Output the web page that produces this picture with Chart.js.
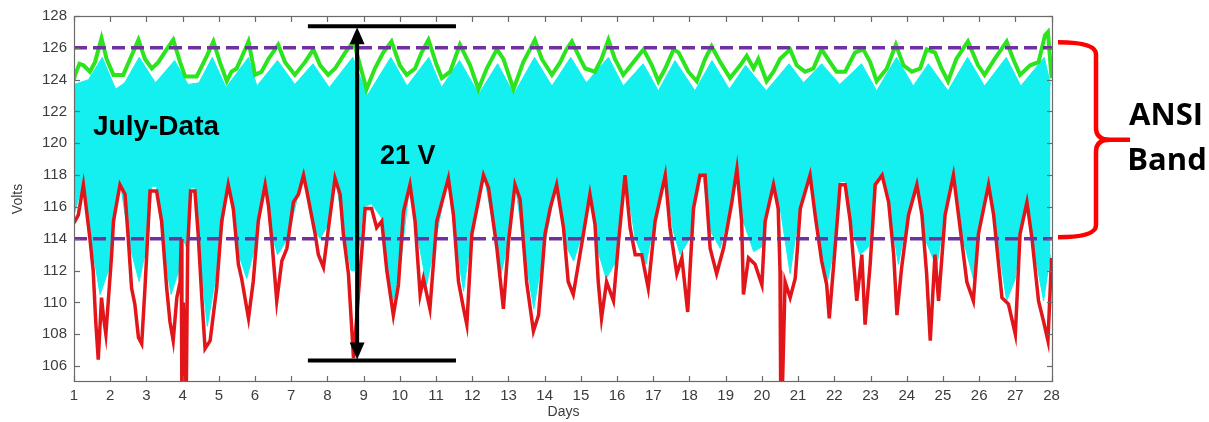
<!DOCTYPE html>
<html>
<head>
<meta charset="utf-8">
<script src="https://cdn.jsdelivr.net/npm/chart.js@4/dist/chart.umd.min.js"></script>
<style>
  html, body { margin: 0; padding: 0; background: #ffffff; }
  #wrap { width: 1209px; height: 422px; }
</style>
</head>
<body>
<div id="wrap"><canvas id="july-chart" width="1209" height="422"></canvas></div>
<script>
// 坐标轴刻度
const dayTicks = [1, 2, 3, 4, 5, 6, 7, 8, 9, 10, 11, 12, 13, 14, 15, 16, 17, 18, 19, 20, 21, 22, 23, 24, 25, 26, 27, 28];
const voltTicks = [106, 108, 110, 112, 114, 116, 118, 120, 122, 124, 126, 128];

// ANSI 上下限
const ansiLimits = [126, 114];

// 最低电压 [天, 伏]
const minTrace = [
  [1.00, 115.0], [1.12, 115.5], [1.26, 117.4], [1.44, 114.0], [1.53, 112.0], [1.60, 108.8], [1.67, 106.4],
  [1.76, 110.3], [1.82, 109.0], [1.88, 108.0], [2.04, 113.0], [2.09, 115.1], [2.27, 117.4], [2.41, 116.8],
  [2.50, 114.0], [2.59, 110.9], [2.68, 109.9], [2.78, 107.8], [2.87, 107.4], [2.96, 110.9], [3.10, 117.0],
  [3.28, 117.0], [3.42, 115.1], [3.56, 110.9], [3.65, 108.8], [3.74, 107.6], [3.84, 110.3], [3.93, 111.3],
  [3.96, 114.0], [3.98, 104.0], [4.02, 110.0], [4.10, 104.0], [4.14, 113.5], [4.22, 117.0], [4.34, 117.0],
  [4.43, 114.3], [4.53, 110.3], [4.62, 107.1], [4.76, 107.6], [4.94, 110.9], [5.08, 115.1], [5.26, 117.4],
  [5.40, 115.9], [5.54, 112.4], [5.63, 111.5], [5.82, 109.0], [5.95, 111.3], [6.09, 115.1], [6.28, 117.4],
  [6.37, 116.1], [6.46, 114.0], [6.60, 110.1], [6.74, 112.6], [6.88, 113.4], [7.06, 116.3], [7.20, 116.8],
  [7.34, 118.0], [7.43, 117.0], [7.66, 114.3], [7.75, 113.0], [7.89, 112.2], [8.03, 114.7], [8.21, 117.8],
  [8.35, 116.8], [8.44, 114.3], [8.58, 111.8], [8.72, 106.5], [8.85, 110.3], [9.04, 115.9], [9.22, 115.9],
  [9.36, 114.7], [9.50, 115.1], [9.64, 112.0], [9.82, 109.2], [9.96, 111.1], [10.10, 115.7], [10.28, 117.4],
  [10.42, 115.1], [10.56, 110.5], [10.65, 111.5], [10.83, 109.6], [11.02, 115.1], [11.34, 117.8], [11.48, 115.5],
  [11.62, 111.3], [11.76, 109.6], [11.85, 108.6], [11.99, 114.3], [12.31, 118.0], [12.45, 117.2], [12.68, 113.4],
  [12.86, 109.6], [13.00, 113.8], [13.18, 117.4], [13.32, 116.5], [13.50, 111.3], [13.69, 108.2], [13.83, 109.2],
  [14.01, 114.3], [14.15, 115.9], [14.33, 117.4], [14.52, 114.7], [14.65, 111.3], [14.79, 110.5], [14.93, 112.4],
  [15.07, 114.3], [15.25, 116.8], [15.39, 114.9], [15.48, 111.3], [15.57, 109.0], [15.71, 111.3], [15.90, 110.1],
  [16.04, 113.8], [16.22, 118.0], [16.36, 114.7], [16.50, 113.0], [16.68, 113.0], [16.86, 110.9], [17.05, 115.1],
  [17.33, 118.0], [17.46, 114.7], [17.65, 111.8], [17.79, 112.8], [17.95, 109.4], [18.11, 115.9], [18.29, 118.0],
  [18.43, 118.0], [18.57, 113.4], [18.75, 111.8], [18.94, 113.4], [19.17, 116.3], [19.31, 118.4], [19.44, 115.1],
  [19.49, 110.5], [19.63, 112.8], [19.81, 112.4], [20.00, 111.1], [20.09, 115.1], [20.32, 117.4], [20.45, 115.9],
  [20.50, 112.0], [20.52, 104.0], [20.56, 104.0], [20.64, 111.3], [20.78, 110.3], [20.92, 111.5], [21.06, 115.9],
  [21.33, 118.0], [21.47, 115.5], [21.65, 112.6], [21.79, 111.1], [21.86, 109.0], [22.02, 113.4], [22.16, 117.4],
  [22.30, 117.4], [22.44, 115.1], [22.62, 110.1], [22.76, 113.0], [22.85, 108.6], [22.99, 112.4], [23.13, 117.4],
  [23.32, 118.0], [23.50, 116.3], [23.64, 113.0], [23.73, 109.2], [23.86, 112.2], [24.05, 115.5], [24.28, 117.4],
  [24.42, 115.5], [24.55, 111.8], [24.65, 107.6], [24.78, 113.0], [24.88, 110.1], [25.06, 115.5], [25.29, 118.0],
  [25.43, 115.5], [25.66, 111.3], [25.84, 110.1], [25.98, 114.3], [26.26, 117.4], [26.40, 115.5], [26.63, 110.3],
  [26.81, 109.9], [27.00, 108.0], [27.13, 114.3], [27.32, 116.3], [27.46, 114.0], [27.64, 110.1], [27.78, 108.8],
  [27.90, 107.6], [28.00, 112.8]
];

// 最高电压 [天, 伏]
const maxTrace = [
  [1.00, 124.0], [1.03, 124.3], [1.15, 125.0], [1.26, 124.9], [1.44, 124.5], [1.58, 125.1], [1.76, 126.6],
  [1.90, 125.3], [2.09, 124.3], [2.36, 124.3], [2.55, 125.3], [2.78, 126.5], [2.96, 125.3], [3.15, 124.7],
  [3.33, 125.1], [3.56, 125.9], [3.74, 126.5], [3.93, 125.1], [4.07, 124.2], [4.39, 124.2], [4.67, 125.5],
  [4.85, 126.4], [5.03, 125.1], [5.22, 123.9], [5.35, 124.5], [5.49, 124.7], [5.65, 125.5], [5.82, 126.4],
  [6.00, 124.3], [6.18, 124.5], [6.37, 125.3], [6.64, 126.2], [6.83, 125.1], [7.10, 124.3], [7.38, 125.1],
  [7.61, 125.9], [7.80, 124.9], [8.02, 124.3], [8.21, 124.7], [8.49, 125.7], [8.72, 126.4], [8.90, 124.9],
  [9.08, 123.4], [9.31, 124.7], [9.54, 125.7], [9.77, 126.4], [10.00, 124.9], [10.19, 124.3], [10.42, 124.7],
  [10.60, 125.7], [10.79, 126.5], [11.02, 124.9], [11.16, 124.1], [11.39, 124.5], [11.66, 126.2], [11.94, 124.9],
  [12.17, 123.4], [12.40, 124.7], [12.68, 125.9], [12.86, 125.3], [13.14, 123.4], [13.41, 125.1], [13.73, 126.5],
  [13.92, 125.3], [14.20, 124.3], [14.43, 125.1], [14.60, 125.9], [14.75, 126.4], [14.98, 125.3], [15.12, 124.7],
  [15.39, 124.5], [15.57, 125.3], [15.76, 126.5], [15.94, 125.3], [16.17, 124.3], [16.45, 125.1], [16.73, 125.9],
  [16.96, 124.9], [17.14, 123.9], [17.33, 124.7], [17.56, 125.9], [17.70, 125.7], [17.97, 124.5], [18.20, 123.9],
  [18.43, 125.3], [18.61, 126.1], [18.85, 125.1], [19.12, 124.1], [19.40, 124.9], [19.58, 125.5], [19.77, 124.7],
  [19.90, 125.3], [20.13, 123.9], [20.32, 124.5], [20.50, 125.3], [20.78, 125.9], [20.96, 124.9], [21.19, 124.5],
  [21.42, 124.7], [21.65, 125.9], [21.88, 125.1], [22.06, 124.5], [22.30, 124.5], [22.57, 125.7], [22.80, 125.9],
  [22.99, 125.1], [23.17, 123.9], [23.45, 124.7], [23.70, 126.2], [23.91, 124.9], [24.14, 124.5], [24.37, 124.7],
  [24.55, 125.9], [24.78, 125.7], [24.96, 124.7], [25.14, 123.9], [25.37, 125.3], [25.69, 126.4], [25.97, 124.9],
  [26.15, 124.3], [26.43, 125.3], [26.76, 126.4], [26.94, 125.3], [27.13, 124.3], [27.41, 124.9], [27.64, 125.1],
  [27.82, 126.8], [27.90, 127.0], [28.00, 124.1]
];

// 全部曲线的包络：上沿
const bandTop = [
  [1.00, 123.7], [1.40, 124.0], [1.78, 125.4], [2.15, 123.4], [2.40, 123.8], [2.80, 125.4], [3.25, 123.8],
  [3.78, 125.2], [4.15, 123.7], [4.45, 123.8], [4.82, 125.4], [5.20, 123.5], [5.82, 125.4], [6.05, 123.6],
  [6.62, 125.2], [7.10, 123.7], [7.60, 125.0], [8.05, 123.5], [8.70, 125.4], [9.10, 123.0], [9.75, 125.4],
  [10.20, 123.6], [10.80, 125.4], [11.15, 123.5], [11.65, 125.2], [12.18, 123.1], [12.70, 125.0], [13.15, 123.1],
  [13.72, 125.4], [14.20, 123.6], [14.72, 125.4], [15.15, 123.8], [15.76, 125.4], [16.17, 123.6], [16.72, 125.0],
  [17.14, 123.3], [17.60, 125.2], [18.15, 123.3], [18.62, 125.2], [19.10, 123.4], [19.55, 124.9], [20.12, 123.3],
  [20.75, 125.0], [21.15, 123.8], [21.65, 125.0], [22.15, 123.7], [22.75, 125.0], [23.17, 123.3], [23.72, 125.4],
  [24.18, 123.6], [24.60, 125.0], [25.14, 123.3], [25.68, 125.4], [26.15, 123.6], [26.75, 125.4], [27.15, 123.6],
  [27.80, 125.4], [27.97, 123.7]
];

// 全部曲线的包络：下沿
const bandLow = [
  [1.00, 115.5], [1.26, 117.6], [1.50, 113.5], [1.72, 110.5], [1.95, 112.0], [2.27, 117.6], [2.55, 113.5],
  [2.80, 111.3], [3.05, 114.0], [3.15, 117.3], [3.28, 117.3], [3.50, 113.0], [3.68, 110.5], [3.90, 112.0],
  [3.97, 114.2], [4.10, 113.5], [4.22, 117.2], [4.34, 117.2], [4.50, 112.5], [4.68, 108.5], [4.95, 112.0],
  [5.26, 117.6], [5.55, 113.0], [5.77, 111.5], [6.00, 113.5], [6.28, 117.6], [6.50, 114.0], [6.62, 113.0],
  [6.90, 114.0], [7.34, 118.2], [7.65, 114.5], [7.80, 114.0], [8.05, 115.0], [8.21, 118.0], [8.45, 114.5],
  [8.65, 112.0], [8.80, 112.0], [9.00, 116.0], [9.22, 116.2], [9.50, 115.3], [9.66, 112.0], [9.82, 110.1],
  [10.00, 112.0], [10.28, 117.6], [10.50, 114.0], [10.74, 111.1], [10.95, 113.5], [11.34, 118.0], [11.60, 113.0],
  [11.76, 110.7], [11.99, 114.5], [12.31, 118.2], [12.60, 114.5], [12.80, 111.8], [13.00, 114.0], [13.18, 117.6],
  [13.45, 113.0], [13.70, 109.6], [13.95, 113.0], [14.33, 117.6], [14.60, 113.5], [14.80, 112.6], [15.07, 114.5],
  [15.25, 117.0], [15.50, 113.0], [15.70, 111.5], [15.95, 112.5], [16.22, 118.2], [16.50, 114.0], [16.80, 112.4],
  [17.05, 115.3], [17.33, 118.2], [17.55, 114.5], [17.74, 113.0], [18.00, 114.0], [18.11, 116.1], [18.36, 118.2],
  [18.57, 114.5], [18.85, 113.4], [19.17, 116.5], [19.31, 118.6], [19.50, 115.0], [19.77, 113.2], [20.00, 113.5],
  [20.09, 115.3], [20.32, 117.6], [20.50, 116.0], [20.78, 111.8], [21.06, 116.1], [21.33, 118.2], [21.55, 114.5],
  [21.79, 111.1], [22.02, 113.6], [22.16, 117.6], [22.30, 117.6], [22.50, 114.5], [22.71, 113.0], [22.95, 113.5],
  [23.13, 117.6], [23.32, 118.2], [23.55, 115.5], [23.77, 112.4], [24.05, 115.7], [24.28, 117.6], [24.50, 114.0],
  [24.83, 112.2], [25.06, 115.7], [25.29, 118.2], [25.55, 114.0], [25.84, 111.5], [25.98, 114.5], [26.26, 117.6],
  [26.50, 114.0], [26.76, 110.1], [27.00, 111.5], [27.13, 114.5], [27.32, 116.5], [27.50, 113.5], [27.78, 110.1],
  [27.97, 113.0]
];

// 21 V 跨度标注
const spanVolts = 21;
const spanMid = 116.85;
const spanDay = 8.82;
const spanBarDays = [7.46, 11.55];

const toPoints = arr => arr.map(([d, v]) => ({ x: d, y: v }));
const xMin = 1, xMax = 28.04;

function line(ctx, x1, y1, x2, y2) {
    ctx.beginPath();
    ctx.moveTo(x1, y1);
    ctx.lineTo(x2, y2);
    ctx.stroke();
}

// 边框、内向刻度、标注
const overlayPlugin = {
    id: 'overlay',
    afterDatasetsDraw(chart) {
        const { ctx, chartArea: a, scales: { x, y } } = chart;
        ctx.save();

        // 边框和刻度线
        ctx.strokeStyle = '#6a6a6a';
        ctx.lineWidth = 1.2;
        ctx.strokeRect(a.left + 0.5, a.top + 0.5, a.right - a.left - 1, a.bottom - a.top - 1);
        dayTicks.forEach(d => {
            const px = Math.round(x.getPixelForValue(d)) + 0.5;
            line(ctx, px, a.bottom, px, a.bottom - 6);
            line(ctx, px, a.top, px, a.top + 6);
        });
        voltTicks.forEach(v => {
            const py = Math.round(y.getPixelForValue(v)) + 0.5;
            line(ctx, a.left, py, a.left + 6, py);
            line(ctx, a.right, py, a.right - 6, py);
        });

        // 21 V 双向箭头
        const topV = spanMid + spanVolts / 2;
        const botV = spanMid - spanVolts / 2;
        const ax = x.getPixelForValue(spanDay);
        const yTop = y.getPixelForValue(topV);
        const yBot = y.getPixelForValue(botV);
        const bx1 = x.getPixelForValue(spanBarDays[0]);
        const bx2 = x.getPixelForValue(spanBarDays[1]);
        ctx.strokeStyle = '#000000';
        ctx.fillStyle = '#000000';
        ctx.lineWidth = 4;
        line(ctx, bx1, yTop, bx2, yTop);
        line(ctx, bx1, yBot, bx2, yBot);
        line(ctx, ax, yTop + 14, ax, yBot - 14);
        ctx.beginPath();
        ctx.moveTo(ax, yTop + 1);
        ctx.lineTo(ax - 7.5, yTop + 18);
        ctx.lineTo(ax + 7.5, yTop + 18);
        ctx.closePath();
        ctx.fill();
        ctx.beginPath();
        ctx.moveTo(ax, yBot - 1);
        ctx.lineTo(ax - 7.5, yBot - 18);
        ctx.lineTo(ax + 7.5, yBot - 18);
        ctx.closePath();
        ctx.fill();

        // 文字
        ctx.font = 'bold 28px "Liberation Sans", Arial, sans-serif';
        ctx.textBaseline = 'alphabetic';
        ctx.textAlign = 'left';
        ctx.fillText('July-Data', 93, 135);
        ctx.font = 'bold 27px "Liberation Sans", Arial, sans-serif';
        ctx.fillText('21 V', 380, 164);

        // ANSI 范围大括号
        const ya = y.getPixelForValue(126.35);
        const yb = y.getPixelForValue(114.1);
        const ym = (ya + yb) / 2;
        const x0 = a.right + 5, xs = a.right + 43, xt = a.right + 77;
        ctx.strokeStyle = '#ff0000';
        ctx.lineWidth = 4.5;
        ctx.lineJoin = 'round';
        ctx.beginPath();
        ctx.moveTo(x0, ya);
        ctx.quadraticCurveTo(xs, ya, xs, ya + 12);
        ctx.lineTo(xs, ym - 12);
        ctx.quadraticCurveTo(xs, ym, xs + 14, ym);
        ctx.lineTo(xt, ym);
        ctx.moveTo(xt, ym);
        ctx.lineTo(xs + 14, ym);
        ctx.quadraticCurveTo(xs, ym, xs, ym + 12);
        ctx.lineTo(xs, yb - 12);
        ctx.quadraticCurveTo(xs, yb, x0, yb);
        ctx.stroke();

        ctx.fillStyle = '#000000';
        ctx.font = 'bold 31px "Open Sans", sans-serif';
        ctx.textAlign = 'center';
        ctx.fillText('ANSI', 1166, 125);
        ctx.fillText('Band', 1167, 170);

        ctx.restore();
    }
};

const tickFont = { family: '"Liberation Sans", Arial, sans-serif', size: 15 };
const tickColor = '#3c3c3c';

new Chart(document.getElementById('july-chart'), {
    type: 'line',
    data: {
        datasets: [
            {
                label: 'ANSI 上限',
                data: [{ x: xMin, y: ansiLimits[0] }, { x: xMax, y: ansiLimits[0] }],
                borderColor: '#7030a0',
                borderWidth: 3.5,
                borderDash: [13, 6],
                pointRadius: 0,
                order: 0
            },
            {
                label: 'ANSI 下限',
                data: [{ x: xMin, y: ansiLimits[1] }, { x: xMax, y: ansiLimits[1] }],
                borderColor: '#7030a0',
                borderWidth: 3.5,
                borderDash: [13, 6],
                pointRadius: 0,
                order: 0
            },
            {
                label: '最低',
                data: toPoints(minTrace),
                borderColor: '#e2161a',
                borderWidth: 3.5,
                pointRadius: 0,
                order: 1
            },
            {
                label: '最高',
                data: toPoints(maxTrace),
                borderColor: '#2be41e',
                borderWidth: 4,
                pointRadius: 0,
                order: 2
            },
            {
                label: '上沿',
                data: toPoints(bandTop),
                borderColor: '#14f0f0',
                backgroundColor: '#14f0f0',
                borderWidth: 1,
                pointRadius: 0,
                fill: 5,
                order: 3
            },
            {
                label: '下沿',
                data: toPoints(bandLow),
                borderColor: '#14f0f0',
                borderWidth: 1,
                pointRadius: 0,
                order: 4
            }
        ]
    },
    options: {
        responsive: false,
        animation: false,
        devicePixelRatio: 1,
        layout: { padding: { left: 0, right: 156, top: 14, bottom: 0 } },
        plugins: {
            legend: { display: false },
            tooltip: { enabled: false }
        },
        scales: {
            x: {
                type: 'linear',
                min: xMin,
                max: xMax,
                afterFit: s => { s.height = 40; },
                afterBuildTicks: s => { s.ticks = dayTicks.map(v => ({ value: v })); },
                grid: { display: false, drawTicks: false },
                border: { display: false },
                ticks: { font: tickFont, color: tickColor, padding: 5, autoSkip: false, maxRotation: 0 },
                title: { display: true, text: 'Days', font: { family: '"Liberation Sans", Arial, sans-serif', size: 14 }, color: tickColor, padding: { top: 0, bottom: 1 } }
            },
            y: {
                type: 'linear',
                min: 105,
                max: 128,
                afterFit: s => { s.width = 74; },
                afterBuildTicks: s => { s.ticks = voltTicks.map(v => ({ value: v })); },
                grid: { display: false, drawTicks: false },
                border: { display: false },
                ticks: { font: tickFont, color: tickColor, padding: 7 },
                title: { display: true, text: 'Volts', font: { family: '"Liberation Sans", Arial, sans-serif', size: 14 }, color: tickColor, padding: { top: 10, bottom: 0 } }
            }
        }
    },
    plugins: [overlayPlugin]
});
</script>
</body>
</html>
